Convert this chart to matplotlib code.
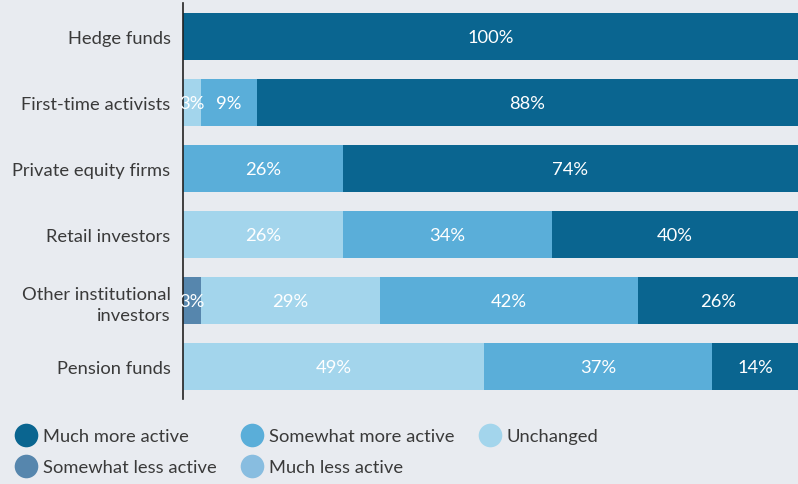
import matplotlib.pyplot as plt
from matplotlib.lines import Line2D
import numpy as np

plt.rcParams['font.family'] = ['Lato', 'DejaVu Sans']

categories = ["Hedge funds", "First-time activists", "Private equity firms",
              "Retail investors", "Other institutional\ninvestors", "Pension funds"]

# shares in percent, stacked left to right
much_less = [0, 0, 0, 0, 0, 0]
somewhat_less = [0, 0, 0, 0, 3, 0]
unchanged = [0, 3, 0, 26, 29, 49]
somewhat_more = [0, 9, 26, 34, 42, 37]
much_more = [100, 88, 74, 40, 26, 14]

series = [
    ("Much less active", much_less, "#88bde0"),
    ("Somewhat less active", somewhat_less, "#5686ad"),
    ("Unchanged", unchanged, "#a3d5ec"),
    ("Somewhat more active", somewhat_more, "#5aaed9"),
    ("Much more active", much_more, "#0a6590"),
]

bg = "#e8ebf0"
fs = 13.2
fig = plt.figure(figsize=(7.98, 4.85), dpi=100, facecolor=bg)
ax = fig.add_axes([183 / 798, 1 - 400 / 485, 1 - 183 / 798, 396 / 485])
ax.set_facecolor(bg)

y = np.arange(len(categories))
left = np.zeros(len(categories))
for name, vals, color in series:
    vals = np.array(vals, dtype=float)
    ax.barh(y, vals, left=left, height=0.71, color=color, linewidth=0)
    for yi, v, l in zip(y, vals, left):
        if v > 0:
            ax.text(l + v / 2, yi, f"{int(v)}%", ha="center", va="center",
                    color="white", fontsize=fs)
    left += vals

ax.set_xlim(0, 100)
ax.set_ylim(5.49, -0.508)
ax.set_yticks(y)
ax.set_yticklabels(categories, fontsize=fs, color="#3a3a3a", ha="right",
                   multialignment="right", linespacing=1.35)
ax.tick_params(axis="y", length=0, pad=9)
ax.set_xticks([])
for s in ["top", "right", "bottom"]:
    ax.spines[s].set_visible(False)
ax.spines["left"].set_color("#222222")
ax.spines["left"].set_linewidth(1.2)

colors = {name: color for name, _, color in series}
order = ["Much more active", "Somewhat less active", "Somewhat more active",
         "Much less active", "Unchanged"]
handles = [Line2D([], [], marker="o", linestyle="none", markersize=17,
                  markerfacecolor=colors[n], markeredgewidth=0) for n in order]
fig.legend(handles, order, ncol=3, loc="upper left",
           bbox_to_anchor=(0.010, 0.130), frameon=False, fontsize=fs,
           labelcolor="#3a3a3a", handletextpad=0.3, handlelength=1.2,
           columnspacing=1.35, labelspacing=0.8, borderaxespad=0)

fig.savefig("out.png", dpi=100, facecolor=bg)
